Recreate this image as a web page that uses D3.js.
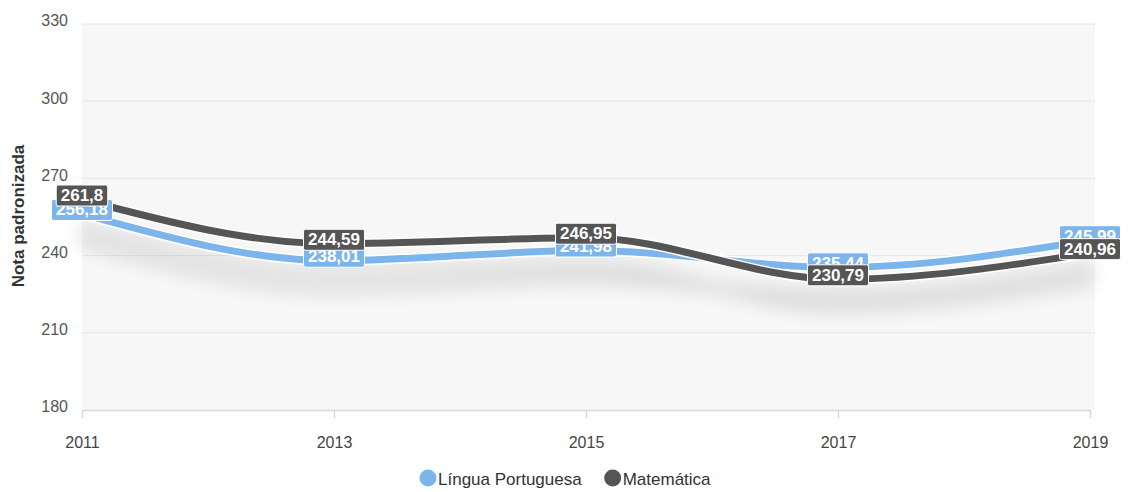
<!DOCTYPE html>
<html><head><meta charset="utf-8">
<script src="https://cdn.jsdelivr.net/npm/d3@7"></script>
<style>body{margin:0;background:#fff;}svg{display:block;font-family:"Liberation Sans",Arial,sans-serif;}</style>
</head><body><svg id="c" width="1128" height="492"></svg>
<script>
const years = [2011, 2013, 2015, 2017, 2019];
const portugues = [256.18, 238.01, 241.98, 235.44, 245.99];
const matematica = [261.8, 244.59, 246.95, 230.79, 240.96];
const seriesNames = ["Língua Portuguesa", "Matemática"];
const seriesColors = ["#7cb5ec", "#555555"];
const yTicks = [180, 210, 240, 270, 300, 330];

const svg = d3.select("#c");
const x = d3.scaleLinear().domain([2011, 2019]).range([82, 1090]);
const y = d3.scaleLinear().domain([180, 330]).range([410, 24]);

const defs = svg.append("defs");
const f = defs.append("filter").attr("id", "sh").attr("x", "-10%").attr("y", "-50%").attr("width", "120%").attr("height", "300%");
f.append("feGaussianBlur").attr("in", "SourceAlpha").attr("stdDeviation", 9).attr("result", "b");
f.append("feOffset").attr("in", "b").attr("dy", 28).attr("result", "o");
f.append("feComponentTransfer").attr("in", "o").attr("result", "t")
  .append("feFuncA").attr("type", "linear").attr("slope", 0.13);
const m = f.append("feMerge");
m.append("feMergeNode").attr("in", "t");
m.append("feMergeNode").attr("in", "SourceGraphic");

svg.append("rect").attr("x", 82).attr("y", 24).attr("width", 1013).attr("height", 386).attr("fill", "#f7f7f7");

const grid = svg.append("g");
yTicks.forEach(t => {
  if (t === 180) return;
  grid.append("line").attr("x1", 82).attr("x2", 1095).attr("y1", y(t)).attr("y2", y(t)).attr("stroke", "#e6e6e6").attr("stroke-width", 1);
});

const yAxis = svg.append("g").attr("transform", "translate(68,0)")
  .call(d3.axisLeft(y).tickValues(yTicks).tickSize(0).tickPadding(0));
yAxis.select(".domain").remove();
yAxis.selectAll("text").attr("fill", "#555").attr("font-size", 16).attr("dy", "0.12em");

const xAxis = svg.append("g").attr("transform", "translate(0,410)")
  .call(d3.axisBottom(x).tickValues(years).tickFormat(d3.format("d")).tickSize(8).tickPadding(19).tickSizeOuter(0));
xAxis.select(".domain").attr("stroke", "#d8d8d8").attr("stroke-width", 1.5);
xAxis.selectAll(".tick line").attr("stroke", "#d8d8d8").attr("stroke-width", 1.5);
xAxis.selectAll("text").attr("fill", "#444").attr("font-size", 16);

svg.append("text").attr("transform", "translate(24,216) rotate(-90)").attr("text-anchor", "middle")
  .attr("font-size", 17).attr("font-weight", "bold").attr("fill", "#333").text("Nota padronizada");

const data = [portugues, matematica];
const line = d3.line().x((d, i) => x(years[i])).y(d => y(d)).curve(d3.curveMonotoneX);
const lg = svg.append("g").attr("filter", "url(#sh)");
data.forEach((s, k) => {
  lg.append("path").datum(s).attr("d", line).attr("fill", "none")
    .attr("stroke", "#fff").attr("stroke-width", 10).attr("stroke-linecap", "round");
  lg.append("path").datum(s).attr("d", line).attr("fill", "none")
    .attr("stroke", seriesColors[k]).attr("stroke-width", 7).attr("stroke-linecap", "round");
});

const fmt = v => String(v).replace(".", ",");
data.forEach((s, k) => {
  const g = svg.append("g");
  s.forEach((v, i) => {
    const cx = x(years[i]), cy = y(v) - 4;
    const t = g.append("text").attr("x", cx).attr("y", cy).attr("text-anchor", "middle")
      .attr("dominant-baseline", "central").attr("font-size", 17).attr("font-weight", "bold")
      .attr("fill", "#fff").text(fmt(v));
    const w = t.node().getComputedTextLength() + 9;
    g.insert("rect", "text").attr("x", cx - w / 2).attr("y", cy - 10.5).attr("width", w).attr("height", 21)
      .attr("rx", 2).attr("fill", seriesColors[k]).attr("stroke", "#fff").attr("stroke-width", 1);
  });
});

const leg = svg.append("g");
let lx = 428;
seriesNames.forEach((n, k) => {
  leg.append("circle").attr("cx", lx).attr("cy", 478).attr("r", 8.5).attr("fill", seriesColors[k]);
  const t = leg.append("text").attr("x", lx + 10).attr("y", 479).attr("dominant-baseline", "central")
    .attr("font-size", 17).attr("fill", "#333").text(n);
  lx += 10 + t.node().getComputedTextLength() + 31;
});
</script></body></html>
